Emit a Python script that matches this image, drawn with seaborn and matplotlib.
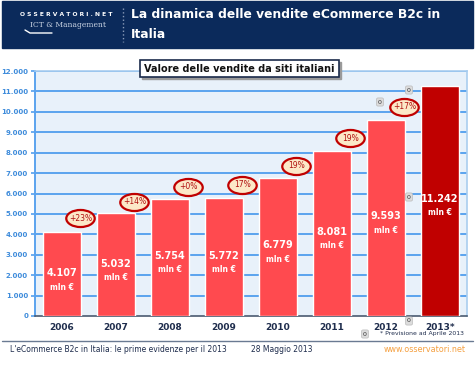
import matplotlib
matplotlib.use("Agg")
import matplotlib.pyplot as plt
import matplotlib.patches as mpatches
from matplotlib.path import Path
import seaborn as sns

# ---------------------------------------------------------------------------
# Data
# ---------------------------------------------------------------------------
YEARS = ["2006", "2007", "2008", "2009", "2010", "2011", "2012", "2013*"]
VALUES = [4107, 5032, 5754, 5772, 6779, 8081, 9593, 11242]
VALUE_LABELS = ["4.107", "5.032", "5.754", "5.772", "6.779", "8.081", "9.593", "11.242"]
GROWTH = ["+23%", "+14%", "+0%", "17%", "19%", "19%", "+17%"]
Y_TICKS = [0, 1000, 2000, 3000, 4000, 5000, 6000, 7000, 8000, 9000, 10000, 11000, 12000]

# layout of the growth bubbles (data units, placed between bars)
GROWTH_Y = [4785, 5600, 6330, 6420, 7360, 8700, 10250]

W, H = 475, 367
NAVY = "#0B2A5B"
BAR = "#FF4A4F"
BAR_LAST = "#C00000"
GRID = "#5BA3EE"


def fx(px):
    return px / W


def fy(py):
    return 1 - py / H


def fig_rect(x0, y0, x1, y1, **kw):
    """Rectangle in figure pixels (top-left origin)."""
    r = mpatches.Rectangle((fx(x0), fy(y1)), (x1 - x0) / W, (y1 - y0) / H,
                           transform=fig.transFigure, **kw)
    fig.patches.append(r)
    return r


sns.set_theme(style="white")
plt.rcParams["font.family"] = ["DejaVu Sans"]

fig = plt.figure(figsize=(W / 100, H / 100), dpi=100)
fig.patch.set_facecolor("white")

# ---------------------------------------------------------------------------
# Header band
# ---------------------------------------------------------------------------
fig_rect(2, 1, 473, 48, color=NAVY, zorder=0)
fig.text(fx(131), fy(15), "La dinamica delle vendite eCommerce B2c in",
         color="white", fontsize=8.8, fontweight="bold", va="center", ha="left")
fig.text(fx(131), fy(34), "Italia",
         color="white", fontsize=8.8, fontweight="bold", va="center", ha="left")
fig.lines.append(plt.Line2D([fx(123), fx(123)], [fy(8), fy(42)], transform=fig.transFigure,
                            color="#8A9BB8", lw=1, linestyle=":"))
# logo
fig.text(fx(20), fy(15), "O S S E R V A T O R I . N E T", color="white", fontsize=4.3,
         fontweight="bold", va="center", ha="left")
fig.text(fx(30), fy(25), "ICT & Management", color="#C8D2E2", fontsize=5.5,
         family="DejaVu Serif", va="center", ha="left")
fig.lines.append(plt.Line2D([fx(25), fx(30), fx(52)], [fy(30), fy(33), fy(33)],
                            transform=fig.transFigure, color="white", lw=1))

# ---------------------------------------------------------------------------
# Chart
# ---------------------------------------------------------------------------
ax = fig.add_axes([fx(35), fy(316), fx(432), 245 / H])
ax.set_facecolor("#E8F1FA")

colors = [BAR] * (len(YEARS) - 1) + [BAR_LAST]
sns.barplot(x=YEARS, y=VALUES, hue=YEARS, palette=colors, legend=False,
            width=0.7, saturation=1, ax=ax, zorder=3)

ax.set_ylim(0, 12000)
ax.set_xlim(-0.5, len(YEARS) - 0.5)
ax.set_yticks(Y_TICKS)
ax.set_yticklabels([f"{v:,}".replace(",", ".") for v in Y_TICKS],
                   fontsize=5, fontweight="bold", color="#3D8BDB")
ax.set_xticks(range(len(YEARS)))
ax.set_xticklabels(YEARS, fontsize=6.5, fontweight="bold", color="#1F2D4D")
ax.set_xticks([i - 0.5 for i in range(len(YEARS) + 1)], minor=True)
ax.tick_params(axis="x", which="major", length=0, pad=5)
ax.tick_params(axis="x", which="minor", length=3, color="#4A5A70", direction="out")
ax.tick_params(axis="y", length=3, color=GRID, direction="out", pad=2, left=True)
ax.set_xlabel("")
ax.set_ylabel("")

for t in Y_TICKS[1:]:
    ax.axhline(t, color=GRID, lw=1.4, zorder=1)

for side in ["top", "right"]:
    ax.spines[side].set_color("#A9CDEF")
    ax.spines[side].set_linewidth(1.2)
ax.spines["left"].set_color(GRID)
ax.spines["left"].set_linewidth(1.4)
ax.spines["bottom"].set_color("#4A5A70")
ax.spines["bottom"].set_linewidth(1.2)

# value labels inside bars
for i, (v, lab) in enumerate(zip(VALUES, VALUE_LABELS)):
    ax.text(i, v * 0.51, lab, color="white", fontsize=7, fontweight="bold",
            ha="center", va="center", zorder=5)
    ax.annotate("mln \u20ac", (i, v * 0.51), xytext=(0, -10), textcoords="offset points",
                color="white", fontsize=5.5, fontweight="bold",
                ha="center", va="center", zorder=5)

# growth bubbles: ellipse markers with text on top
circle = Path.unit_circle()
ellipse = Path(circle.vertices * [1.0, 0.6], circle.codes)
gx = [i + 0.34 for i in range(len(GROWTH))]
ax.scatter(gx, GROWTH_Y, marker=ellipse, s=420, facecolor="#FCE8C8",
           edgecolor="#C00000", linewidth=1.6, zorder=6)
for x, g, gy in zip(gx, GROWTH, GROWTH_Y):
    ax.text(x, gy, g, color="#B01010", fontsize=5.5, ha="center", va="center", zorder=7)

# chart title box with shadow
fig_rect(142, 62, 341, 79, color="#9A9A9A", zorder=8)
fig_rect(140, 60, 339, 77, facecolor="white", edgecolor="#1A2A4A", lw=1.2, zorder=9)
fig.text(fx(239.5), fy(68.5), "Valore delle vendite da siti italiani", fontsize=7,
         fontweight="bold", color="#111111", ha="center", va="center", zorder=10)

# stray grey "0" data labels
for px, py in [(409, 90), (380, 102), (409, 197), (409, 321), (365, 334)]:
    fig.text(fx(px), fy(py), "0", fontsize=4.5, color="#333333", ha="center", va="center",
             zorder=10,
             bbox=dict(boxstyle="round,pad=0.25", fc="#DCDCDC", ec="#BBBBBB", lw=0.5))

fig.text(fx(380), fy(334), "* Previsione ad Aprile 2013", fontsize=4.4,
         color="#1F2D4D", ha="left", va="center")

# ---------------------------------------------------------------------------
# Footer
# ---------------------------------------------------------------------------
fig.lines.append(plt.Line2D([fx(2), fx(473)], [fy(341), fy(341)], transform=fig.transFigure,
                            color="#6A7A92", lw=1))
fig.text(fx(10), fy(349), "L'eCommerce B2c in Italia: le prime evidenze per il 2013",
         fontsize=5.5, color="#1F2D4D", ha="left", va="center")
fig.text(fx(251), fy(349), "28 Maggio 2013", fontsize=5.5, color="#1F2D4D",
         ha="left", va="center")
fig.text(fx(466), fy(349), "www.osservatori.net", fontsize=5.8, color="#F5A040",
         ha="right", va="center")

fig.savefig("out.png", dpi=100, facecolor="white")
